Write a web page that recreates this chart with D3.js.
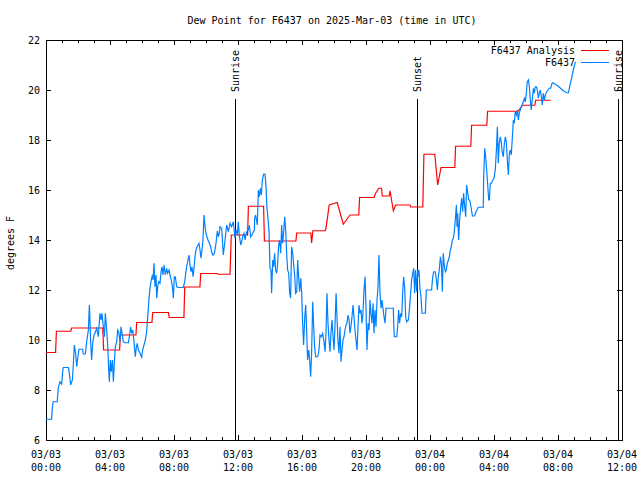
<!DOCTYPE html>
<html><head><meta charset="utf-8">
<script src="https://cdn.jsdelivr.net/npm/d3@7"></script>
<style>
body{margin:0;background:#fff;}
text{font-family:"DejaVu Sans Mono",monospace;font-size:10px;fill:#000;}
</style></head>
<body><svg id="c" width="640" height="480"></svg>
<script>
const title = "Dew Point for F6437 on 2025-Mar-03 (time in UTC)";
const yLabel = "degrees F";
const startTime = "2025-03-03T00:00:00Z";
const endTime = "2025-03-04T12:00:00Z";
const yTicks = [6, 8, 10, 12, 14, 16, 18, 20, 22];
const xTickHours = [0, 4, 8, 12, 16, 20, 24, 28, 32, 36];
const events = [["Sunrise", 11.84], ["Sunset", 23.16], ["Sunrise", 35.77]];
const seriesNames = ["F6437 Analysis", "F6437"];

// [hours since start, °F]
const analysis = [[0,9.5],[0.6,9.5],[0.65,10.35],[1.55,10.35],[1.6,10.48],[3.55,10.48],[3.6,9.6],[4.6,9.6],[4.65,10.2],[5.62,10.2],[5.67,10.7],[6.62,10.7],[6.67,11.1],[7.65,11.1],[7.7,10.9],[8.62,10.9],[8.67,12.12],[9.62,12.12],[9.67,12.66],[10.7,12.66],[10.75,12.63],[11.5,12.63],[11.58,14.2],[12.6,14.2],[12.65,15.35],[13.6,15.35],[13.65,13.96],[15.62,13.96],[15.67,14.28],[16.55,14.28],[16.6,13.88],[16.68,14.37],[17.45,14.37],[17.5,14.47],[17.7,15.4],[18.2,15.5],[18.58,14.63],[19.0,15.0],[19.55,15.0],[19.6,15.7],[20.5,15.7],[20.6,15.87],[20.8,16.07],[20.97,16.07],[21.02,15.76],[21.45,15.76],[21.5,15.97],[21.71,15.17],[21.85,15.4],[22.75,15.4],[22.8,15.32],[23.55,15.32],[23.62,17.43],[24.3,17.43],[24.48,16.2],[24.69,16.9],[25.55,16.9],[25.6,17.75],[26.55,17.75],[26.6,18.59],[27.55,18.59],[27.6,19.15],[29.5,19.15],[29.79,19.39],[30.55,19.39],[30.6,19.59],[31.54,19.59]];

const observed = [[0.0,6.83],[0.35,6.83],[0.4,7.33],[0.45,7.53],[0.7,7.53],[0.77,8.1],[0.875,8.33],[0.98,8.24],[1.04,8.73],[1.08,8.9],[1.4,8.9],[1.46,8.67],[1.54,8.2],[1.65,8.4],[1.71,9.03],[1.77,9.8],[1.85,9.47],[1.92,8.93],[1.98,9.27],[2.06,9.63],[2.29,9.63],[2.33,9.44],[2.46,9.44],[2.54,9.93],[2.65,10.4],[2.71,11.4],[2.75,10.73],[2.79,9.93],[2.85,9.2],[2.92,9.87],[3.0,10.2],[3.06,10.27],[3.17,10.47],[3.27,10.13],[3.375,11.07],[3.44,10.8],[3.5,11.07],[3.58,10.53],[3.65,10.13],[3.71,11.07],[3.79,10.4],[3.85,9.87],[3.9,9.07],[3.96,8.33],[4.02,9.2],[4.08,8.73],[4.15,9.2],[4.21,8.33],[4.27,9.07],[4.33,9.73],[4.42,9.93],[4.48,10.4],[4.54,10.33],[4.625,9.93],[4.69,10.53],[4.77,10.2],[4.83,9.93],[4.94,9.89],[5.15,9.89],[5.21,10.13],[5.29,10.53],[5.35,10.27],[5.42,10.4],[5.5,9.93],[5.58,9.33],[5.65,9.73],[5.71,9.87],[5.77,9.6],[5.875,9.47],[5.98,9.31],[6.04,9.6],[6.125,9.8],[6.21,10.0],[6.29,10.33],[6.375,11.07],[6.44,11.67],[6.5,12.07],[6.58,12.4],[6.65,12.6],[6.69,12.4],[6.75,13.07],[6.81,12.13],[6.875,12.6],[6.92,11.67],[6.98,12.13],[7.04,12.33],[7.125,12.27],[7.19,12.73],[7.25,12.93],[7.31,12.6],[7.375,13.0],[7.46,12.6],[7.54,12.87],[7.6,12.67],[7.69,12.8],[7.75,12.6],[7.83,12.4],[7.9,12.13],[7.96,11.67],[8.02,12.53],[8.08,12.53],[8.17,12.13],[8.27,12.1],[8.58,12.1],[8.67,12.33],[8.73,12.67],[8.79,12.93],[8.875,13.2],[8.94,13.4],[9.0,13.0],[9.06,12.73],[9.125,12.93],[9.19,12.53],[9.25,12.87],[9.31,13.33],[9.375,13.6],[9.44,13.73],[9.5,13.8],[9.56,13.87],[9.625,13.6],[9.69,13.27],[9.75,13.6],[9.81,14.0],[9.875,15.0],[9.94,14.53],[10.0,14.27],[10.06,14.13],[10.125,14.0],[10.21,13.87],[10.29,13.73],[10.35,13.53],[10.42,13.4],[10.48,13.4],[10.54,13.53],[10.625,13.87],[10.71,14.37],[10.77,14.13],[10.83,14.27],[10.875,14.53],[10.98,14.47],[11.08,13.4],[11.17,13.87],[11.29,14.6],[11.4,14.33],[11.5,14.67],[11.6,14.53],[11.71,14.73],[11.81,14.07],[11.875,14.4],[11.96,14.2],[12.02,14.73],[12.08,14.2],[12.17,13.8],[12.23,13.93],[12.29,14.13],[12.375,14.27],[12.44,14.0],[12.54,14.33],[12.65,14.4],[12.71,14.6],[12.79,14.13],[12.875,14.2],[12.96,14.33],[13.02,14.4],[13.04,14.87],[13.1,15.0],[13.21,14.6],[13.27,16.0],[13.33,15.73],[13.4,16.07],[13.46,15.8],[13.52,16.4],[13.6,16.64],[13.69,16.64],[13.75,16.13],[13.81,15.27],[13.875,14.87],[13.94,14.33],[14.0,12.87],[14.06,12.8],[14.1,11.87],[14.17,13.2],[14.23,12.93],[14.29,13.47],[14.35,12.8],[14.42,12.67],[14.48,13.07],[14.54,13.8],[14.6,14.0],[14.67,13.47],[14.73,14.6],[14.79,13.87],[14.85,14.27],[14.92,14.93],[14.98,14.4],[15.04,13.47],[15.1,12.8],[15.17,12.67],[15.23,11.87],[15.29,11.67],[15.35,13.73],[15.42,13.47],[15.48,13.0],[15.54,12.6],[15.6,11.87],[15.67,11.93],[15.73,13.2],[15.79,12.53],[15.85,11.93],[15.92,12.47],[15.98,11.87],[16.04,10.67],[16.1,9.8],[16.17,10.87],[16.23,11.4],[16.29,10.4],[16.35,9.2],[16.42,9.6],[16.48,9.2],[16.54,8.53],[16.6,9.47],[16.67,11.53],[16.73,10.53],[16.79,9.73],[16.85,9.33],[16.98,9.33],[17.06,9.6],[17.125,10.2],[17.21,10.13],[17.29,10.27],[17.375,9.93],[17.44,9.53],[17.5,10.27],[17.56,11.87],[17.625,10.67],[17.69,10.0],[17.75,9.53],[17.81,10.27],[17.875,10.8],[17.94,10.13],[18.0,9.6],[18.06,10.53],[18.13,11.87],[18.19,10.87],[18.25,9.93],[18.31,9.47],[18.375,10.53],[18.44,9.13],[18.5,9.6],[18.56,10.0],[18.625,10.13],[18.69,10.4],[18.75,10.6],[18.81,10.67],[18.875,11.0],[18.94,10.8],[19.0,10.27],[19.06,10.53],[19.125,10.93],[19.19,11.4],[19.25,10.93],[19.31,10.4],[19.375,10.0],[19.44,9.6],[19.5,10.53],[19.56,11.4],[19.625,11.07],[19.69,11.2],[19.75,10.67],[19.81,11.07],[19.875,12.0],[19.94,12.53],[20.0,11.27],[20.06,9.6],[20.13,10.67],[20.19,10.4],[20.25,11.6],[20.31,11.07],[20.375,10.67],[20.44,11.47],[20.5,10.27],[20.56,11.2],[20.625,10.53],[20.69,11.6],[20.75,12.13],[20.81,13.4],[20.875,11.87],[20.94,11.27],[21.0,11.6],[21.06,11.27],[21.125,10.93],[21.19,10.67],[21.25,11.27],[21.71,11.27],[21.73,10.67],[21.77,10.13],[21.92,10.13],[21.98,10.53],[22.04,11.2],[22.1,10.67],[22.17,11.07],[22.23,10.93],[22.29,11.87],[22.35,12.53],[22.42,12.07],[22.48,10.93],[22.54,10.73],[22.65,10.8],[22.73,11.33],[22.79,11.87],[22.85,12.4],[22.92,12.67],[22.98,12.87],[23.04,11.87],[23.1,12.8],[23.17,11.93],[23.23,12.8],[23.29,12.53],[23.31,12.8],[23.375,12.0],[23.44,11.73],[23.5,11.07],[23.71,11.07],[23.77,12.0],[24.1,12.0],[24.17,12.53],[24.23,12.73],[24.33,12.73],[24.4,12.4],[24.46,12.0],[24.52,12.53],[24.58,12.8],[24.65,13.33],[24.71,13.07],[24.77,11.93],[24.83,13.47],[24.9,12.93],[24.96,12.73],[25.02,12.8],[25.08,13.07],[25.15,13.2],[25.21,13.33],[25.27,13.6],[25.33,13.73],[25.4,14.0],[25.46,14.07],[25.52,14.33],[25.58,14.8],[25.65,15.4],[25.69,14.53],[25.73,15.07],[25.79,14.0],[25.85,14.8],[25.92,15.33],[25.98,15.67],[26.04,15.13],[26.1,15.87],[26.17,15.33],[26.23,14.93],[26.29,16.2],[26.35,15.93],[26.42,15.6],[26.48,15.6],[26.56,15.33],[26.65,14.96],[26.79,14.96],[26.875,15.13],[27.02,15.31],[27.33,15.31],[27.35,16.4],[27.42,17.67],[27.48,17.33],[27.54,16.8],[27.6,16.27],[27.67,15.6],[27.71,15.6],[27.77,16.27],[27.85,16.27],[27.92,16.4],[28.0,16.47],[28.08,16.8],[28.15,17.6],[28.21,18.53],[28.27,17.07],[28.33,17.87],[28.4,18.13],[28.46,17.87],[28.52,17.47],[28.58,17.33],[28.65,17.87],[28.71,18.13],[28.77,17.93],[28.83,17.2],[28.9,16.6],[28.96,17.47],[29.02,17.6],[29.08,17.4],[29.15,18.13],[29.21,18.8],[29.27,18.67],[29.33,19.13],[29.4,19.0],[29.46,19.2],[29.52,18.8],[29.58,19.07],[29.67,19.27],[29.75,19.4],[29.83,19.53],[29.9,19.67],[29.96,19.53],[30.02,19.87],[30.08,20.33],[30.15,20.4],[30.21,20.13],[30.27,19.6],[30.33,19.2],[30.4,19.67],[30.46,20.07],[30.52,19.87],[30.58,20.13],[30.65,20.13],[30.71,20.0],[30.77,19.67],[30.83,19.87],[30.9,20.0],[30.96,19.73],[31.02,19.4],[31.08,19.87],[31.15,19.6],[31.21,19.8],[31.29,19.93],[31.375,20.0],[31.46,20.07],[31.54,20.07],[31.625,20.27],[31.67,20.29],[32.0,20.16],[32.33,19.97],[32.54,19.89],[32.65,19.89],[32.75,20.2],[32.85,20.47],[32.96,20.8],[33.06,21.07],[33.125,21.13]];

const colors = ["#ff0000", "#0080ff"];

const t0 = new Date(startTime);
const hr = h => new Date(t0.getTime() + h * 3600e3);
const W = 640, H = 480;
const m = {l: 46, r: 622, t: 40, b: 440};
const svg = d3.select("#c");
const x = d3.scaleUtc().domain([t0, new Date(endTime)]).range([m.l, m.r]);
const y = d3.scaleLinear().domain([6, 22]).range([m.b, m.t]);

// title & axis label
svg.append("text").attr("x", 332).attr("y", 24).attr("text-anchor", "middle").text(title);
svg.append("text").attr("transform", "translate(14,243) rotate(-90)").attr("text-anchor", "middle").text(yLabel);

const g = svg.append("g").attr("shape-rendering", "crispEdges");
const allHours = d3.range(0, 37);
// x ticks (bottom & top, inward)
allHours.forEach(h => {
  const xx = Math.round(x(hr(h))) + 0.5;
  const len = (h % 4 === 0) ? 5 : 3;
  g.append("line").attr("x1", xx).attr("x2", xx).attr("y1", m.b).attr("y2", m.b - len).attr("stroke", "#000");
  g.append("line").attr("x1", xx).attr("x2", xx).attr("y1", m.t).attr("y2", m.t + len).attr("stroke", "#000");
});
yTicks.forEach(v => {
  const yy = Math.round(y(v)) + 0.5;
  g.append("line").attr("x1", m.l).attr("x2", m.l + 5).attr("y1", yy).attr("y2", yy).attr("stroke", "#000");
  g.append("line").attr("x1", m.r).attr("x2", m.r - 5).attr("y1", yy).attr("y2", yy).attr("stroke", "#000");
  svg.append("text").attr("x", 40).attr("y", y(v) + 4).attr("text-anchor", "end").text(v);
});
const fmtD = d3.utcFormat("%m/%d"), fmtT = d3.utcFormat("%H:%M");
xTickHours.forEach(h => {
  const d = hr(h);
  svg.append("text").attr("x", x(d)).attr("y", 457.5).attr("text-anchor", "middle").text(fmtD(d));
  svg.append("text").attr("x", x(d)).attr("y", 471).attr("text-anchor", "middle").text(fmtT(d));
});

// event lines
events.forEach(([name, h]) => {
  const xx = Math.round(x(hr(h))) + 0.5;
  g.append("line").attr("x1", xx).attr("x2", xx).attr("y1", 99).attr("y2", m.b).attr("stroke", "#000");
  svg.append("text").attr("transform", `translate(${xx + 3.5},92) rotate(-90)`).attr("text-anchor", "start").text(name);
});

// series
const line = d3.line().x(d => x(hr(d[0]))).y(d => y(d[1]));
svg.append("path").datum(analysis).attr("d", line).attr("fill", "none").attr("stroke", colors[0]).attr("stroke-width", 1.2);
svg.append("path").datum(observed).attr("d", line).attr("fill", "none").attr("stroke", colors[1]).attr("stroke-width", 1.2);

// frame
g.append("rect").attr("x", m.l + 0.5).attr("y", m.t + 0.5).attr("width", m.r - m.l).attr("height", m.b - m.t).attr("fill", "none").attr("stroke", "#000");

// legend
seriesNames.forEach((n, i) => {
  const ly = 50 + i * 12;
  svg.append("text").attr("x", 575).attr("y", ly + 4).attr("text-anchor", "end").text(n);
  g.append("line").attr("x1", 581).attr("x2", 609).attr("y1", ly + 0.5).attr("y2", ly + 0.5).attr("stroke", colors[i]);
});
</script></body></html>
